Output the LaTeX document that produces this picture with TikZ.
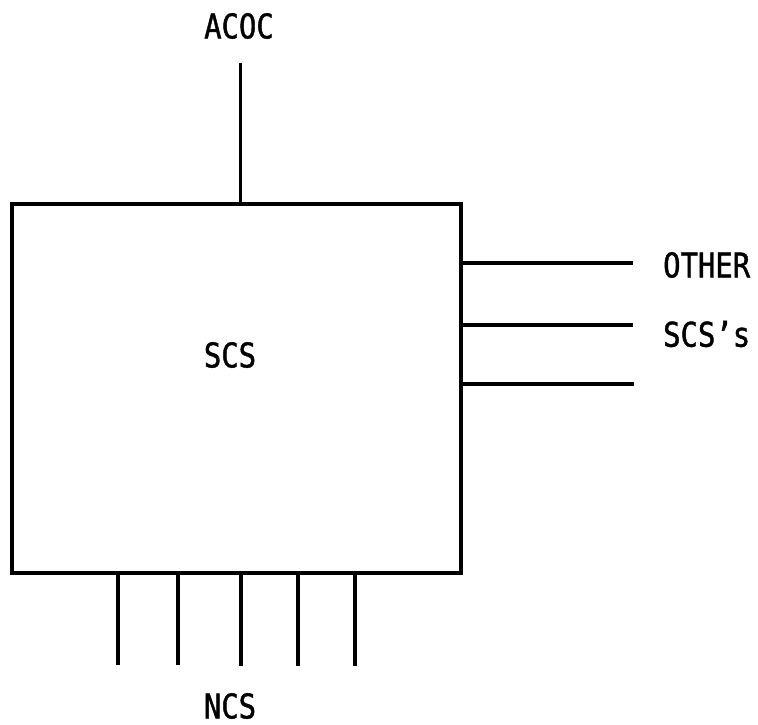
\documentclass[tikz,border=0pt]{standalone}
\usepackage{fontspec}
\newfontfamily\lblfont[FakeStretch=0.85,FakeBold=1.2]{DejaVu Sans Mono}
\begin{document}
\begin{tikzpicture}[x=1pt,y=-1pt,
  lbl/.style={font=\lblfont\fontsize{34}{38}\selectfont, inner sep=0pt},
  wire/.style={line width=3.5pt},
  boxstyle/.style={draw, line width=4.5pt, inner sep=0pt, outer sep=0pt, minimum width=449pt, minimum height=369pt}]
\useasboundingbox (0,0) rectangle (758,725);
\node[boxstyle] (box) at (236.5,388.5) {};
\node[lbl] (scs) at (230,355) {SCS};
\node[lbl] (acoc) at (239,26) {ACOC};
\node[lbl, anchor=west] (other) at (663,265) {OTHER};
\node[lbl, anchor=west] (scss) at (663,334) {SCS’s};
\node[lbl] (ncs) at (230,706) {NCS};
% top connector
\coordinate (t) at (240.5,63);
\draw[wire] (t) -- (t |- box.north);
% right connectors
\coordinate (r1) at (633,263);
\coordinate (r2) at (633,325);
\coordinate (r3) at (634,384);
\foreach \c in {r1,r2,r3} \draw[wire] (box.east |- \c) -- (\c);
% bottom connectors
\coordinate (b1) at (118,665);
\coordinate (b2) at (178,665);
\coordinate (b3) at (241,666);
\coordinate (b4) at (298,666);
\coordinate (b5) at (355,666);
\foreach \c in {b1,b2,b3,b4,b5} \draw[wire] (box.south -| \c) -- (\c);
\end{tikzpicture}
\end{document}
